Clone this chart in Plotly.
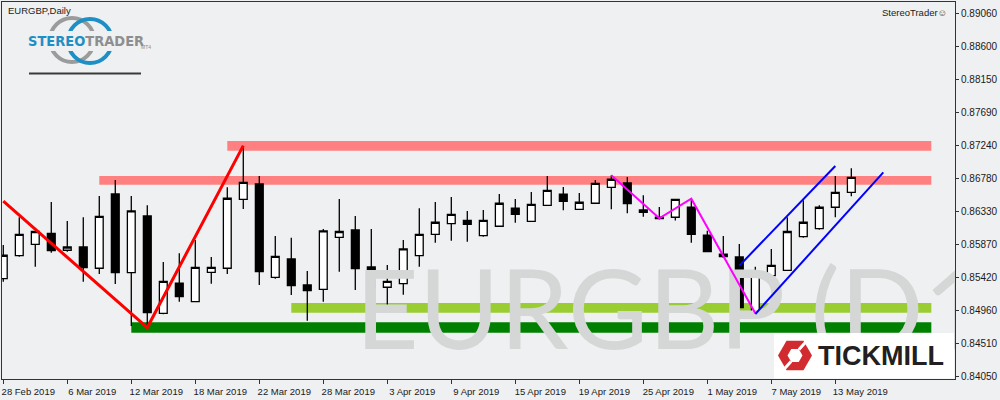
import plotly.graph_objects as go

# ---------------- data ----------------
dates = ["28 Feb 2019", "1 Mar 2019", "4 Mar 2019", "5 Mar 2019", "6 Mar 2019", "7 Mar 2019",
         "8 Mar 2019", "11 Mar 2019", "12 Mar 2019", "13 Mar 2019", "14 Mar 2019", "15 Mar 2019",
         "18 Mar 2019", "19 Mar 2019", "20 Mar 2019", "21 Mar 2019", "22 Mar 2019", "25 Mar 2019",
         "26 Mar 2019", "27 Mar 2019", "28 Mar 2019", "29 Mar 2019", "1 Apr 2019", "2 Apr 2019",
         "3 Apr 2019", "4 Apr 2019", "5 Apr 2019", "8 Apr 2019", "9 Apr 2019", "10 Apr 2019",
         "11 Apr 2019", "12 Apr 2019", "15 Apr 2019", "16 Apr 2019", "17 Apr 2019", "18 Apr 2019",
         "19 Apr 2019", "22 Apr 2019", "23 Apr 2019", "24 Apr 2019", "25 Apr 2019", "26 Apr 2019",
         "29 Apr 2019", "30 Apr 2019", "1 May 2019", "2 May 2019", "3 May 2019", "6 May 2019",
         "7 May 2019", "8 May 2019", "9 May 2019", "10 May 2019", "13 May 2019", "14 May 2019"]
future_dates = ["15 May 2019", "16 May 2019", "17 May 2019", "20 May 2019", "21 May 2019", "22 May 2019"]

open_ = [0.85401, 0.85718, 0.85875, 0.86027, 0.85793, 0.85838, 0.85545, 0.86569, 0.85484, 0.86266,
         0.84924, 0.85338, 0.85084, 0.85489, 0.85545, 0.86496, 0.86707, 0.85420, 0.85673, 0.85314,
         0.85255, 0.85972, 0.86073, 0.85562, 0.85283, 0.85332, 0.85718, 0.86013, 0.86159, 0.86206,
         0.85994, 0.86124, 0.86372, 0.86192, 0.86413, 0.86565, 0.86358, 0.86441, 0.86661, 0.86721,
         0.86348, 0.86248, 0.86248, 0.86386, 0.86000, 0.85738, 0.85700, 0.84932, 0.85443, 0.85517,
         0.85980, 0.86090, 0.86386, 0.86592]
high = [0.85866, 0.86248, 0.86055, 0.86459, 0.86197, 0.86248, 0.86541, 0.86762, 0.86541, 0.86413,
        0.85631, 0.85751, 0.85935, 0.85700, 0.86661, 0.87231, 0.86817, 0.85990, 0.85966, 0.85507,
        0.86086, 0.86500, 0.86266, 0.86086, 0.85590, 0.85935, 0.86372, 0.86459, 0.86528, 0.86335,
        0.86348, 0.86569, 0.86500, 0.86596, 0.86817, 0.86665, 0.86583, 0.86762, 0.86827, 0.86803,
        0.86551, 0.86390, 0.86498, 0.86504, 0.86063, 0.85990, 0.85880, 0.85567, 0.85811, 0.86248,
        0.86482, 0.86413, 0.86817, 0.86923]
low = [0.85360, 0.85704, 0.85567, 0.85760, 0.85773, 0.85360, 0.85466, 0.85328, 0.84749, 0.84728,
       0.84910, 0.85084, 0.85080, 0.85332, 0.85466, 0.86362, 0.85314, 0.85401, 0.85176, 0.84822,
       0.85084, 0.85498, 0.85245, 0.85181, 0.85015, 0.85181, 0.85567, 0.85898, 0.85925, 0.85911,
       0.85980, 0.86120, 0.86173, 0.86190, 0.86410, 0.86344, 0.86355, 0.86440, 0.86358, 0.86303,
       0.86256, 0.86217, 0.86204, 0.85898, 0.85770, 0.85687, 0.84960, 0.84924, 0.85374, 0.85515,
       0.85966, 0.86077, 0.86248, 0.86537]
close = [0.85724, 0.86013, 0.86052, 0.85787, 0.85838, 0.85553, 0.86261, 0.85484, 0.86335, 0.84932,
         0.85365, 0.85153, 0.85558, 0.85558, 0.86510, 0.86730, 0.85498, 0.85710, 0.85305, 0.85236,
         0.86059, 0.86052, 0.85539, 0.85291, 0.85365, 0.85811, 0.86013, 0.86179, 0.86289, 0.86151,
         0.86206, 0.86441, 0.86289, 0.86427, 0.86620, 0.86468, 0.86455, 0.86716, 0.86772, 0.86438,
         0.86317, 0.86231, 0.86496, 0.86013, 0.85773, 0.85704, 0.85001, 0.85489, 0.85586, 0.86052,
         0.86179, 0.86386, 0.86592, 0.86799]

# support / resistance zones: start date, low price, high price
zone_start = ["20 Mar 2019", "8 Mar 2019", "26 Mar 2019", "12 Mar 2019"]
zone_low = [0.87166, 0.86697, 0.84932, 0.84657]
zone_high = [0.87300, 0.86817, 0.85066, 0.84800]
zone_end = "21 May 2019"

# drawn trend lines
red_x = ["28 Feb 2019", "13 Mar 2019", "21 Mar 2019"]
red_y = [0.86470, 0.84728, 0.87236]
magenta_x = ["23 Apr 2019", "26 Apr 2019", "30 Apr 2019", "6 May 2019"]
magenta_y = [0.86827, 0.86234, 0.86504, 0.84924]
blue_up_x = ["3 May 2019", "13 May 2019"]
blue_up_y = [0.85580, 0.86955]
blue_dn_x = ["6 May 2019", "16 May 2019"]
blue_dn_y = [0.84914, 0.86868]

x_tick_labels = dates[::4]
y_tick_values = [0.89060, 0.88600, 0.88150, 0.87690, 0.87240, 0.86780, 0.86330,
                 0.85870, 0.85420, 0.84960, 0.84510, 0.84050]
y_tick_labels = [f"{v:.5f}" for v in y_tick_values]

# ---------------- style ----------------
BG = "#eff0f1"
zone_colors = ["#ff8080", "#ff8080", "#9acd32", "#008000"]
all_cats = dates + future_dates

PL, PT, PW, PH = 2, 2, 953, 377


def px(x):
    return (x - PL) / PW


def py(y):
    return 1 - (y - PT) / PH


fig = go.Figure()

# watermark (the closing bracket falls outside the plot area, as in the original)
fig.add_trace(go.Scatter(
    x=[dates[22]], y=[0.84811], mode="text", text=["EURGBP (D1"],
    textposition="middle right",
    textfont=dict(family="Lato, Liberation Sans, sans-serif", size=110, color="#d5d6d6"),
    hoverinfo="skip", showlegend=False))

fig.add_trace(go.Candlestick(
    x=dates, open=open_, high=high, low=low, close=close,
    increasing=dict(fillcolor="#ffffff", line=dict(color="#000000", width=1.3)),
    decreasing=dict(fillcolor="#000000", line=dict(color="#000000", width=1.3)),
    whiskerwidth=0, showlegend=False, hoverinfo="skip"))

fig.add_trace(go.Scatter(x=red_x, y=red_y, mode="lines",
                         line=dict(color="#ff0000", width=3), showlegend=False, hoverinfo="skip"))
fig.add_trace(go.Scatter(x=magenta_x, y=magenta_y, mode="lines",
                         line=dict(color="#ff00ff", width=2), showlegend=False, hoverinfo="skip"))
fig.add_trace(go.Scatter(x=blue_up_x, y=blue_up_y, mode="lines",
                         line=dict(color="#0000ff", width=2), showlegend=False, hoverinfo="skip"))
fig.add_trace(go.Scatter(x=blue_dn_x, y=blue_dn_y, mode="lines",
                         line=dict(color="#0000ff", width=2), showlegend=False, hoverinfo="skip"))

shapes = []
end_idx = all_cats.index(zone_end)
for s, lo, hi, col in zip(zone_start, zone_low, zone_high, zone_colors):
    shapes.append(dict(type="rect", xref="x", yref="y", x0=all_cats.index(s), x1=end_idx,
                       y0=lo, y1=hi, fillcolor=col, line=dict(width=0), layer="below"))

# StereoTrader logo
shapes.append(dict(type="circle", xref="paper", yref="paper", x0=px(50), x1=px(94), y0=py(62), y1=py(18),
                   line=dict(color="#9b9b9b", width=4), layer="above"))
shapes.append(dict(type="circle", xref="paper", yref="paper", x0=px(68), x1=px(112), y0=py(63), y1=py(19),
                   line=dict(color="#1e8fc4", width=4), layer="above"))
shapes.append(dict(type="rect", xref="paper", yref="paper", x0=px(26), x1=px(142), y0=py(51), y1=py(31),
                   fillcolor=BG, line=dict(width=0), layer="above"))
shapes.append(dict(type="line", xref="paper", yref="paper", x0=px(29), x1=px(141), y0=py(73.5), y1=py(73.5),
                   line=dict(color="#3a3a3a", width=2), layer="above"))

# Tickmill logo
shapes.append(dict(type="rect", xref="paper", yref="paper", x0=px(774), x1=px(954), y0=py(378.5), y1=py(333),
                   fillcolor="#ffffff", line=dict(width=0), layer="above"))
cx, cy = 795, 355.5


def hexpath(r):
    pts = [(cx + r, cy), (cx + r / 2, cy - r * 0.866), (cx - r / 2, cy - r * 0.866),
           (cx - r, cy), (cx - r / 2, cy + r * 0.866), (cx + r / 2, cy + r * 0.866)]
    return "M " + " L ".join(f"{px(a):.5f},{py(b):.5f}" for a, b in pts) + " Z"


shapes.append(dict(type="path", xref="paper", yref="paper", path=hexpath(17),
                   fillcolor="#d12a2f", line=dict(width=0), layer="above"))
shapes.append(dict(type="path", xref="paper", yref="paper", path=hexpath(7.5),
                   fillcolor="#ffffff", line=dict(width=0), layer="above"))
shapes.append(dict(type="line", xref="paper", yref="paper", x0=px(cx + 4), x1=px(cx + 13),
                   y0=py(cy - 6), y1=py(cy - 16), line=dict(color="#ffffff", width=3), layer="above"))
shapes.append(dict(type="line", xref="paper", yref="paper", x0=px(cx - 4), x1=px(cx - 13),
                   y0=py(cy + 6), y1=py(cy + 16), line=dict(color="#ffffff", width=3), layer="above"))

annotations = [
    dict(xref="paper", yref="paper", x=px(6), y=py(11), xanchor="left", yanchor="middle",
         text="EURGBP,Daily", showarrow=False,
         font=dict(family="Liberation Sans, Arial, sans-serif", size=9.5, color="#1a1a1a")),
    dict(xref="paper", yref="paper", x=px(949), y=py(12), xanchor="right", yanchor="middle",
         text="StereoTrader☺", showarrow=False,
         font=dict(family="Liberation Sans, DejaVu Sans, sans-serif", size=9.5, color="#1a1a1a")),
    dict(xref="paper", yref="paper", x=px(26), y=py(41.5), xanchor="left", yanchor="middle",
         text="<span style='color:#1e8fc4'>STEREO</span><span style='color:#8e8e8e'>TRADER</span>",
         showarrow=False,
         font=dict(family="DejaVu Sans Condensed, Liberation Sans Narrow, sans-serif",
                   size=14.5, weight=700)),
    dict(xref="paper", yref="paper", x=px(139), y=py(47), xanchor="left", yanchor="middle",
         text="MT4", showarrow=False,
         font=dict(family="Liberation Sans, sans-serif", size=5, color="#8e8e8e")),
    dict(xref="paper", yref="paper", x=px(816), y=py(355.5), xanchor="left", yanchor="middle",
         text="TICKMILL", showarrow=False,
         font=dict(family="Liberation Sans, Arial, sans-serif", size=27, weight=700, color="#231f20")),
]

fig.update_layout(
    width=1000, height=400,
    margin=dict(l=PL, r=1000 - PL - PW, t=PT, b=400 - PT - PH),
    paper_bgcolor=BG, plot_bgcolor=BG,
    showlegend=False,
    shapes=shapes, annotations=annotations,
    xaxis=dict(type="category", categoryorder="array", categoryarray=all_cats,
               range=[-0.08, 59.48], tickmode="array", tickvals=x_tick_labels, ticktext=x_tick_labels,
               ticks="outside", ticklen=4, tickcolor="#333333", ticklabelshift=25,
               showline=True, mirror=True, linecolor="#333333", linewidth=1,
               showgrid=False, zeroline=False, rangeslider=dict(visible=False),
               tickfont=dict(family="Liberation Sans, Arial, sans-serif", size=9.5, color="#1a1a1a")),
    yaxis=dict(side="right", range=[0.84018, 0.89216], tickmode="array",
               tickvals=y_tick_values, ticktext=y_tick_labels,
               ticks="outside", ticklen=3, tickcolor="#333333",
               showline=True, mirror=True, linecolor="#333333", linewidth=1,
               showgrid=False, zeroline=False,
               tickfont=dict(family="Liberation Sans, Arial, sans-serif", size=10, color="#1a1a1a")),
)

fig.write_html("out.html", config={"displayModeBar": False},
               post_script="document.body.style.margin='0';document.body.style.overflow='hidden';")
